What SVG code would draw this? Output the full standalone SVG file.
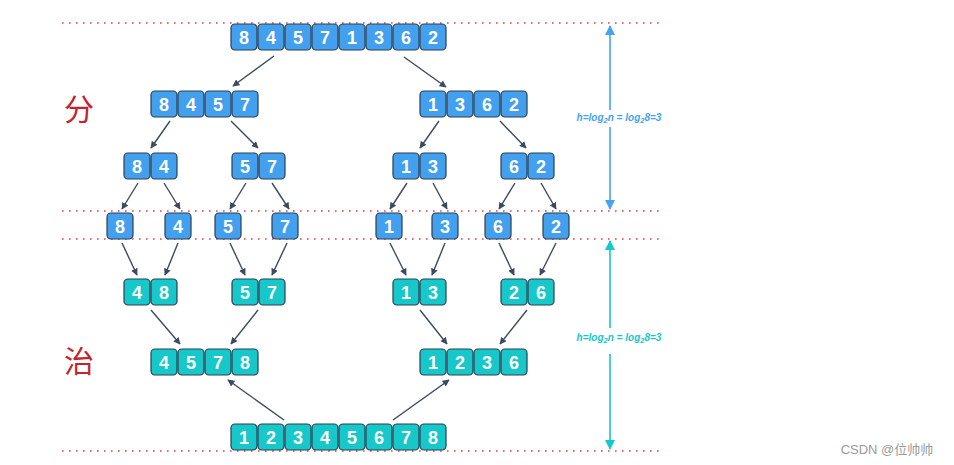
<svg xmlns="http://www.w3.org/2000/svg" width="954" height="465" viewBox="0 0 954 465">
<style>
.b{fill:#43a0ef;stroke:#2d3e50;stroke-width:1.2}
.t{fill:#16c8c9;stroke:#2d3e50;stroke-width:1.2}
.n{fill:#fff;font-family:"Liberation Sans",Arial,sans-serif;font-weight:bold;font-size:18px;text-anchor:middle}
.dot{stroke:#d9434f;stroke-width:1.6;stroke-dasharray:1.6 5.4;fill:none}
.c{stroke:#3a4a60;stroke-width:1.4;fill:none;marker-end:url(#ah)}
.h{font-family:"Liberation Sans",Arial,sans-serif;font-weight:bold;font-style:italic;font-size:10px;text-anchor:middle}
.zh{font-family:"Noto Sans CJK SC",sans-serif;font-size:30px;fill:#c3242e;text-anchor:middle}
</style>
<defs>
<marker id="ah" viewBox="0 0 10 10" refX="9" refY="5" markerWidth="7" markerHeight="7" orient="auto" markerUnits="userSpaceOnUse"><path d="M0,0 L10,5 L0,10 z" fill="#3a4a60"/></marker>
<marker id="ab" viewBox="0 0 10 10" refX="9" refY="5" markerWidth="10" markerHeight="10" orient="auto" markerUnits="userSpaceOnUse"><path d="M0,0 L10,5 L0,10 z" fill="#45a3ef"/></marker>
<marker id="at" viewBox="0 0 10 10" refX="9" refY="5" markerWidth="10" markerHeight="10" orient="auto" markerUnits="userSpaceOnUse"><path d="M0,0 L10,5 L0,10 z" fill="#16c8c9"/></marker>
</defs>
<rect width="954" height="465" fill="#fff"/>
<g id="guides">
<line class="dot" x1="62" y1="23" x2="662" y2="23"/>
<line class="dot" x1="62" y1="211" x2="662" y2="211"/>
<line class="dot" x1="62" y1="239" x2="662" y2="239"/>
<line class="dot" x1="62" y1="451" x2="662" y2="451"/>
</g>
<g id="label-fen"><text class="zh" x="79" y="120">分</text></g>
<g id="label-zhi"><text class="zh" x="79" y="372">治</text></g>
<g id="height-divide">
<line x1="610" y1="110" x2="610" y2="26" stroke="#45a3ef" stroke-width="1.6" marker-end="url(#ab)"/>
<line x1="610" y1="127" x2="610" y2="209" stroke="#45a3ef" stroke-width="1.6" marker-end="url(#ab)"/>
<text class="h" x="619" y="121" fill="#45a3ef">h=log<tspan font-size="7.5" dy="2">2</tspan><tspan dy="-2">n = log</tspan><tspan font-size="7.5" dy="2">2</tspan><tspan dy="-2">8=3</tspan></text>
</g>
<g id="height-conquer">
<line x1="610" y1="328" x2="610" y2="241" stroke="#16c8c9" stroke-width="1.6" marker-end="url(#at)"/>
<line x1="610" y1="354" x2="610" y2="449" stroke="#16c8c9" stroke-width="1.6" marker-end="url(#at)"/>
<text class="h" x="619" y="341" fill="#16c8c9">h=log<tspan font-size="7.5" dy="2">2</tspan><tspan dy="-2">n = log</tspan><tspan font-size="7.5" dy="2">2</tspan><tspan dy="-2">8=3</tspan></text>
</g>
<g id="connectors">
<line class="c" x1="274" y1="56" x2="233" y2="86"/>
<line class="c" x1="404" y1="57" x2="446" y2="87"/>
<line class="c" x1="170" y1="121" x2="151" y2="148"/>
<line class="c" x1="231" y1="121" x2="258" y2="148"/>
<line class="c" x1="439" y1="121" x2="420" y2="148"/>
<line class="c" x1="500" y1="121" x2="526" y2="148"/>
<line class="c" x1="138" y1="183" x2="122" y2="209"/>
<line class="c" x1="164" y1="183" x2="180" y2="209"/>
<line class="c" x1="246" y1="183" x2="230" y2="209"/>
<line class="c" x1="272" y1="183" x2="289" y2="209"/>
<line class="c" x1="407" y1="183" x2="390" y2="209"/>
<line class="c" x1="433" y1="183" x2="447" y2="209"/>
<line class="c" x1="515" y1="183" x2="499" y2="209"/>
<line class="c" x1="541" y1="183" x2="556" y2="209"/>
<line class="c" x1="122" y1="243" x2="137" y2="275"/>
<line class="c" x1="178" y1="243" x2="165" y2="275"/>
<line class="c" x1="230" y1="243" x2="245" y2="275"/>
<line class="c" x1="287" y1="243" x2="272" y2="275"/>
<line class="c" x1="390" y1="243" x2="406" y2="275"/>
<line class="c" x1="445" y1="243" x2="432" y2="275"/>
<line class="c" x1="499" y1="243" x2="514" y2="275"/>
<line class="c" x1="556" y1="243" x2="540" y2="275"/>
<line class="c" x1="151" y1="310" x2="180" y2="344"/>
<line class="c" x1="258" y1="310" x2="231" y2="344"/>
<line class="c" x1="420" y1="310" x2="447" y2="344"/>
<line class="c" x1="527" y1="310" x2="500" y2="344"/>
<line class="c" x1="284" y1="420" x2="228" y2="380"/>
<line class="c" x1="393" y1="420" x2="449" y2="380"/>
</g>
<g id="top">
<rect class="b" x="231" y="24" width="26" height="26" rx="4"/><text class="n" x="244" y="43.5">8</text>
<rect class="b" x="258" y="24" width="26" height="26" rx="4"/><text class="n" x="271" y="43.5">4</text>
<rect class="b" x="285" y="24" width="26" height="26" rx="4"/><text class="n" x="298" y="43.5">5</text>
<rect class="b" x="312" y="24" width="26" height="26" rx="4"/><text class="n" x="325" y="43.5">7</text>
<rect class="b" x="339" y="24" width="26" height="26" rx="4"/><text class="n" x="352" y="43.5">1</text>
<rect class="b" x="366" y="24" width="26" height="26" rx="4"/><text class="n" x="379" y="43.5">3</text>
<rect class="b" x="393" y="24" width="26" height="26" rx="4"/><text class="n" x="406" y="43.5">6</text>
<rect class="b" x="420" y="24" width="26" height="26" rx="4"/><text class="n" x="433" y="43.5">2</text>
</g>
<g id="d8457">
<rect class="b" x="151" y="91" width="26" height="26" rx="4"/><text class="n" x="164" y="110.5">8</text>
<rect class="b" x="178" y="91" width="26" height="26" rx="4"/><text class="n" x="191" y="110.5">4</text>
<rect class="b" x="205" y="91" width="26" height="26" rx="4"/><text class="n" x="218" y="110.5">5</text>
<rect class="b" x="232" y="91" width="26" height="26" rx="4"/><text class="n" x="245" y="110.5">7</text>
</g>
<g id="d1362">
<rect class="b" x="420" y="91" width="26" height="26" rx="4"/><text class="n" x="433" y="110.5">1</text>
<rect class="b" x="447" y="91" width="26" height="26" rx="4"/><text class="n" x="460" y="110.5">3</text>
<rect class="b" x="474" y="91" width="26" height="26" rx="4"/><text class="n" x="487" y="110.5">6</text>
<rect class="b" x="501" y="91" width="26" height="26" rx="4"/><text class="n" x="514" y="110.5">2</text>
</g>
<g id="d84">
<rect class="b" x="124" y="153" width="26" height="26" rx="4"/><text class="n" x="137" y="172.5">8</text>
<rect class="b" x="151" y="153" width="26" height="26" rx="4"/><text class="n" x="164" y="172.5">4</text>
</g>
<g id="d57">
<rect class="b" x="232" y="153" width="26" height="26" rx="4"/><text class="n" x="245" y="172.5">5</text>
<rect class="b" x="259" y="153" width="26" height="26" rx="4"/><text class="n" x="272" y="172.5">7</text>
</g>
<g id="d13">
<rect class="b" x="393" y="153" width="26" height="26" rx="4"/><text class="n" x="406" y="172.5">1</text>
<rect class="b" x="420" y="153" width="26" height="26" rx="4"/><text class="n" x="433" y="172.5">3</text>
</g>
<g id="d62">
<rect class="b" x="501" y="153" width="26" height="26" rx="4"/><text class="n" x="514" y="172.5">6</text>
<rect class="b" x="528" y="153" width="26" height="26" rx="4"/><text class="n" x="541" y="172.5">2</text>
</g>
<g id="s8"><rect class="b" x="107" y="213" width="26" height="26" rx="4"/><text class="n" x="120" y="232.5">8</text></g>
<g id="s4"><rect class="b" x="165" y="213" width="26" height="26" rx="4"/><text class="n" x="178" y="232.5">4</text></g>
<g id="s5"><rect class="b" x="215" y="213" width="26" height="26" rx="4"/><text class="n" x="228" y="232.5">5</text></g>
<g id="s7"><rect class="b" x="272" y="213" width="26" height="26" rx="4"/><text class="n" x="285" y="232.5">7</text></g>
<g id="s1"><rect class="b" x="376" y="213" width="26" height="26" rx="4"/><text class="n" x="389" y="232.5">1</text></g>
<g id="s3"><rect class="b" x="432" y="213" width="26" height="26" rx="4"/><text class="n" x="445" y="232.5">3</text></g>
<g id="s6"><rect class="b" x="485" y="213" width="26" height="26" rx="4"/><text class="n" x="498" y="232.5">6</text></g>
<g id="s2"><rect class="b" x="543" y="213" width="26" height="26" rx="4"/><text class="n" x="556" y="232.5">2</text></g>
<g id="m48">
<rect class="t" x="124" y="279" width="26" height="26" rx="4"/><text class="n" x="137" y="298.5">4</text>
<rect class="t" x="151" y="279" width="26" height="26" rx="4"/><text class="n" x="164" y="298.5">8</text>
</g>
<g id="m57">
<rect class="t" x="232" y="279" width="26" height="26" rx="4"/><text class="n" x="245" y="298.5">5</text>
<rect class="t" x="259" y="279" width="26" height="26" rx="4"/><text class="n" x="272" y="298.5">7</text>
</g>
<g id="m13">
<rect class="t" x="393" y="279" width="26" height="26" rx="4"/><text class="n" x="406" y="298.5">1</text>
<rect class="t" x="420" y="279" width="26" height="26" rx="4"/><text class="n" x="433" y="298.5">3</text>
</g>
<g id="m26">
<rect class="t" x="501" y="279" width="26" height="26" rx="4"/><text class="n" x="514" y="298.5">2</text>
<rect class="t" x="528" y="279" width="26" height="26" rx="4"/><text class="n" x="541" y="298.5">6</text>
</g>
<g id="m4578">
<rect class="t" x="151" y="349" width="26" height="26" rx="4"/><text class="n" x="164" y="368.5">4</text>
<rect class="t" x="178" y="349" width="26" height="26" rx="4"/><text class="n" x="191" y="368.5">5</text>
<rect class="t" x="205" y="349" width="26" height="26" rx="4"/><text class="n" x="218" y="368.5">7</text>
<rect class="t" x="232" y="349" width="26" height="26" rx="4"/><text class="n" x="245" y="368.5">8</text>
</g>
<g id="m1236">
<rect class="t" x="420" y="349" width="26" height="26" rx="4"/><text class="n" x="433" y="368.5">1</text>
<rect class="t" x="447" y="349" width="26" height="26" rx="4"/><text class="n" x="460" y="368.5">2</text>
<rect class="t" x="474" y="349" width="26" height="26" rx="4"/><text class="n" x="487" y="368.5">3</text>
<rect class="t" x="501" y="349" width="26" height="26" rx="4"/><text class="n" x="514" y="368.5">6</text>
</g>
<g id="result">
<rect class="t" x="231" y="424" width="26" height="26" rx="4"/><text class="n" x="244" y="443.5">1</text>
<rect class="t" x="258" y="424" width="26" height="26" rx="4"/><text class="n" x="271" y="443.5">2</text>
<rect class="t" x="285" y="424" width="26" height="26" rx="4"/><text class="n" x="298" y="443.5">3</text>
<rect class="t" x="312" y="424" width="26" height="26" rx="4"/><text class="n" x="325" y="443.5">4</text>
<rect class="t" x="339" y="424" width="26" height="26" rx="4"/><text class="n" x="352" y="443.5">5</text>
<rect class="t" x="366" y="424" width="26" height="26" rx="4"/><text class="n" x="379" y="443.5">6</text>
<rect class="t" x="393" y="424" width="26" height="26" rx="4"/><text class="n" x="406" y="443.5">7</text>
<rect class="t" x="420" y="424" width="26" height="26" rx="4"/><text class="n" x="433" y="443.5">8</text>
</g>
<g id="watermark"><text x="887" y="454" font-family="'Liberation Sans','Noto Sans CJK SC',sans-serif" font-size="13" fill="#9a9a9a" text-anchor="middle">CSDN @位帅帅</text></g>
</svg>
